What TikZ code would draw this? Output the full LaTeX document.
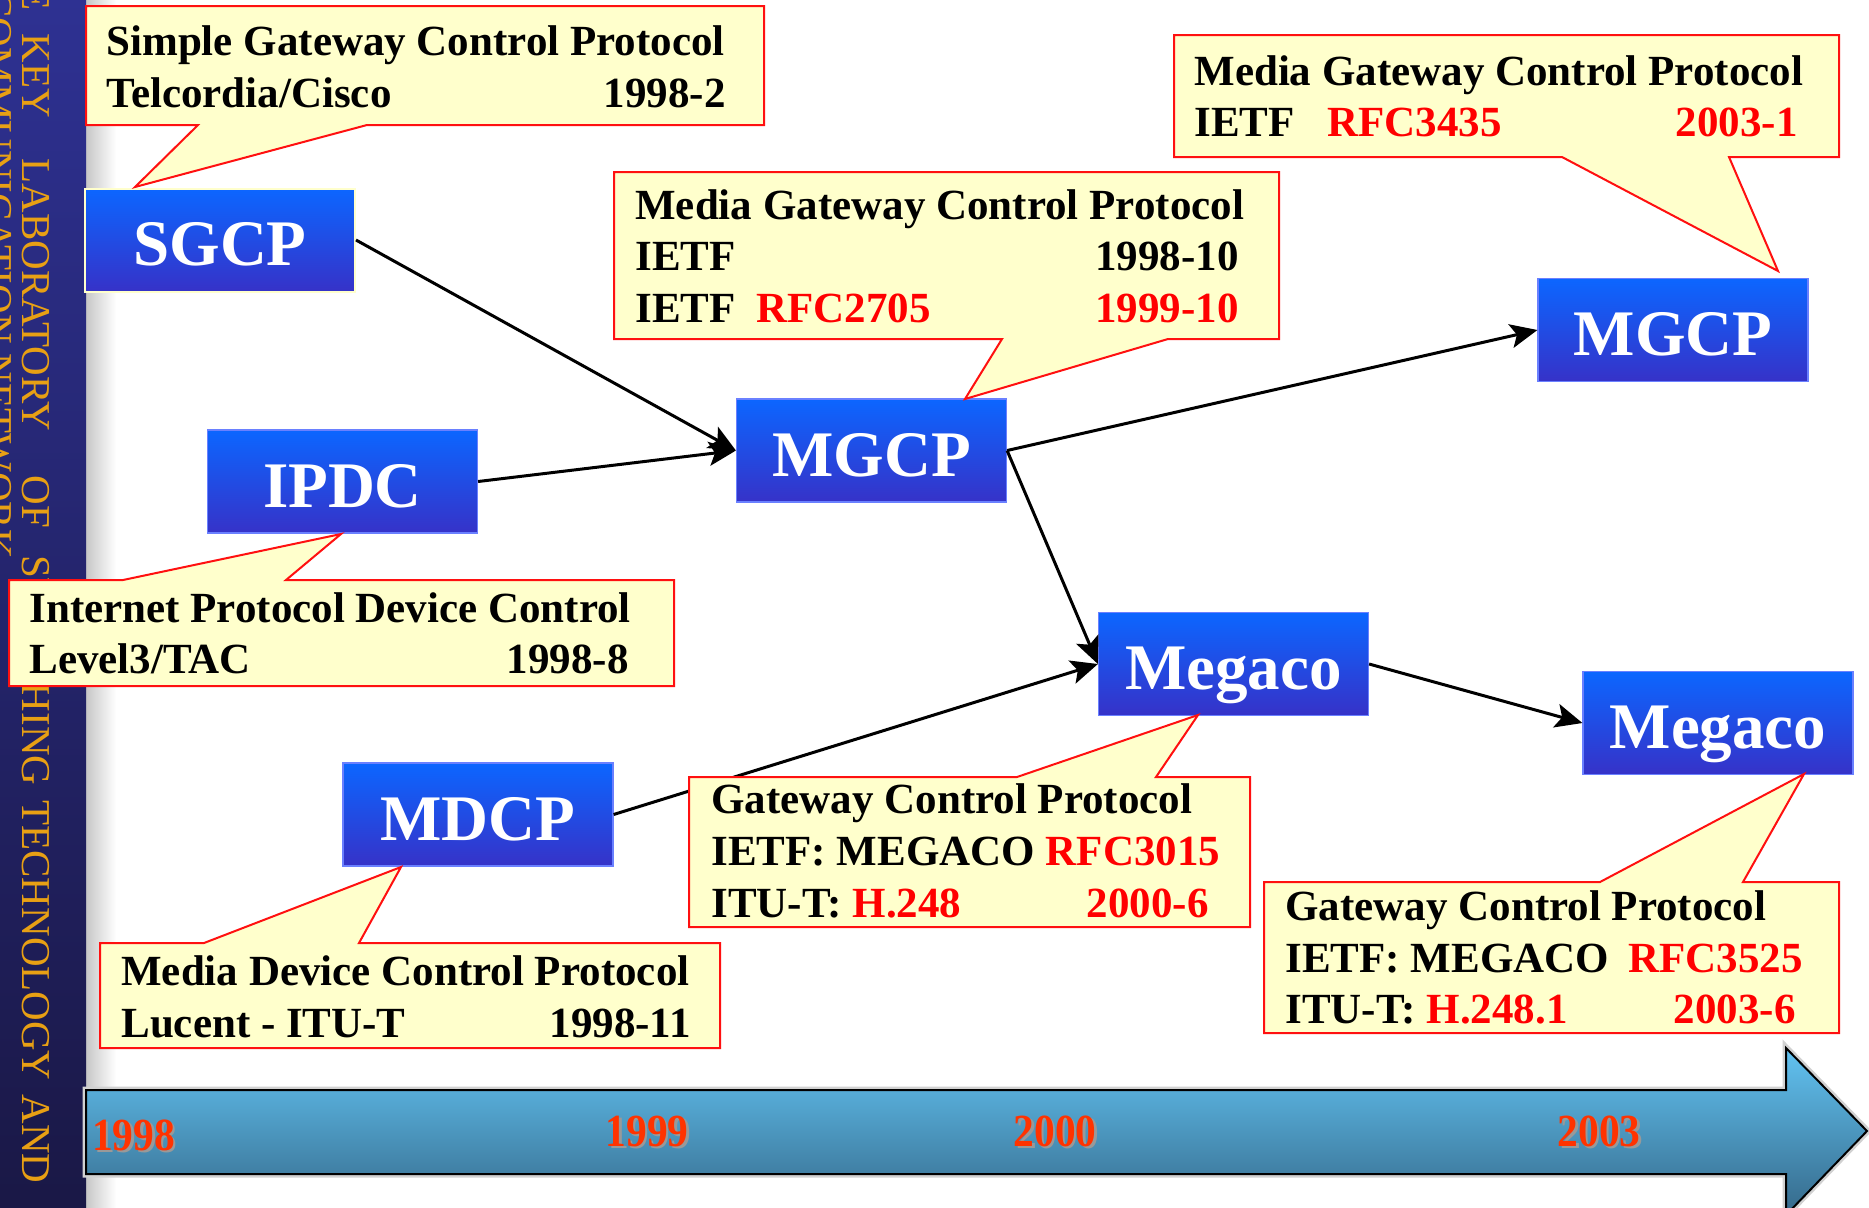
\documentclass[tikz,border=0pt]{standalone}
\usepackage{fontspec}
\setmainfont{Liberation Serif}
\newfontfamily\yearfont{Liberation Serif}[FakeStretch=0.9]
\usetikzlibrary{arrows.meta}

\definecolor{boxtop}{HTML}{0C66FF}
\definecolor{boxbot}{HTML}{3632C8}
\definecolor{boxedge}{HTML}{6A80FF}
\definecolor{notefill}{HTML}{FFFFCC}
\definecolor{noteline}{HTML}{FF1010}
\definecolor{rfcred}{HTML}{FF0000}
\definecolor{yearred}{HTML}{FF3300}
\definecolor{sidetop}{HTML}{2E3192}
\definecolor{sidebot}{HTML}{1A1846}
\definecolor{sidegold}{HTML}{E8A014}
\definecolor{bandtop}{HTML}{62C3F2}
\definecolor{bandbot}{HTML}{35698A}

\begin{document}
\begin{tikzpicture}[x=0.5pt,y=-0.5pt,
  proto/.style={rectangle, minimum width=135pt, minimum height=51.5pt, inner sep=0pt,
    top color=boxtop, bottom color=boxbot, draw=boxedge, line width=0.6pt,
    text=white, font=\fontsize{32.5}{32.5}\selectfont\bfseries,
    text height=25.5pt, text depth=0pt},
  note/.style={fill=notefill, draw=noteline, line width=1pt, line join=miter},
  notetext/.style={font=\fontsize{21.5}{21.5}\selectfont\bfseries, inner sep=0pt, text=black},
  hot/.style={text=rfcred},
  link/.style={-{Stealth[length=13.5pt,width=12pt,inset=3pt]}, line width=1.5pt, black},
  sidetext/.style={font=\fontsize{20.5}{20.5}\selectfont, text=sidegold, inner sep=0pt,
    rotate=-90, anchor=base west},
  yearmark/.style={font=\fontsize{23}{23}\selectfont\yearfont\bfseries, inner sep=0pt, anchor=base}
]
\useasboundingbox (0,0) rectangle (1869,1207);
\fill[white] (0,0) rectangle (1869,1207);

% soft edge next to the side band
\shade[left color=black!22, right color=white] (86,0) rectangle (116,1207);

% side band with the laboratory name, set word by word down the band
\shade[top color=sidetop, bottom color=sidebot] (0,0) rectangle (86,1207);
\begin{scope}
  \clip (0,0) rectangle (86,1207);
  \foreach \word/\pos [count=\k] in {STATE/-110, KEY/33, LABORATORY/158, OF/475,
      SWITCHING/555, TECHNOLOGY/800, AND/1094}{
    \node[sidetext] (labw\k) at (23,\pos) {\word};
  }
  \node[sidetext] (labline2) at (-15,-110) {TELECOMMUNICATION NETWORK};
\end{scope}

% time axis
\path[top color=bandtop, bottom color=bandbot, draw=black, line width=1pt, line join=miter,
      preaction={draw=black!18, line width=3.5pt}]
  (86,1090) -- (1786,1090) -- (1786,1048) -- (1867,1131) -- (1786,1215)
  -- (1786,1174) -- (86,1174) -- cycle;
\foreach \yr/\xx/\yy in {1998/133.5/1150, 1999/647/1146, 2000/1055/1146, 2003/1599/1146}{
  \node[yearmark, text=black!40] (yr\yr s) at (\xx+2.5,\yy+2.5) {\yr};
  \node[yearmark, text=yearred] (yr\yr) at (\xx,\yy) {\yr};
}

% protocol boxes
\node[proto, draw=notefill, line width=1pt] (sgcp) at (220,240) {SGCP};
\node[proto] (ipdc)    at (342.5,481.5) {IPDC};
\node[proto] (mgcpa)   at (871.5,450.5) {MGCP};
\node[proto] (mgcpb)   at (1673,330)    {MGCP};
\node[proto] (megacoa) at (1233.5,664)  {Megaco};
\node[proto] (megacob) at (1718,723)    {Megaco};
\node[proto] (mdcp)    at (478,814.5)   {MDCP};

% evolution links
\draw[link] (sgcp.east) -- (mgcpa.west);
\draw[link] (ipdc.east) -- (mgcpa.west);
\draw[link] (mgcpa.east) -- (mgcpb.west);
\draw[link] (mgcpa.east) -- (megacoa.west);
\draw[link] (mdcp.east) -- (megacoa.west);
\draw[link] (megacoa.east) -- (megacob.west);

% callouts
\path[note] (86,6) -- (764,6) -- (764,125) -- (367,125) -- (135,187) -- (198,125) -- (86,125) -- cycle;
\node[notetext, anchor=base west] (sgcp1) at (106,55) {Simple Gateway Control Protocol};
\node[notetext, anchor=base west] (sgcp2) at (106,107) {Telcordia/Cisco};
\node[notetext, anchor=base east] (sgcp3) at (726,107) {1998-2};

\path[note] (9,580) -- (123,580) -- (341,534) -- (286,580) -- (674,580) -- (674,686) -- (9,686) -- cycle;
\node[notetext, anchor=base west] (ipdc1) at (29,622) {Internet Protocol Device Control};
\node[notetext, anchor=base west] (ipdc2) at (29,673) {Level3/TAC};
\node[notetext, anchor=base east] (ipdc3) at (629,673) {1998-8};

\path[note] (614,172) -- (1279,172) -- (1279,339) -- (1168,339) -- (965,399) -- (1002,339) -- (614,339) -- cycle;
\node[notetext, anchor=base west] (mgcpa1) at (635,219) {Media Gateway Control Protocol};
\node[notetext, anchor=base west] (mgcpa2) at (635,270) {IETF};
\node[notetext, anchor=base east] (mgcpa3) at (1239,270) {1998-10};
\node[notetext, anchor=base west] (mgcpa4) at (635,322) {IETF};
\node[notetext, hot, anchor=base west] (mgcpa5) at (756,322) {RFC2705};
\node[notetext, hot, anchor=base east] (mgcpa6) at (1239,322) {1999-10};

\path[note] (1174,35) -- (1839,35) -- (1839,157) -- (1729,157) -- (1778,271) -- (1562,157) -- (1174,157) -- cycle;
\node[notetext, anchor=base west] (mgcpb1) at (1194,85) {Media Gateway Control Protocol};
\node[notetext, anchor=base west] (mgcpb2) at (1194,136) {IETF};
\node[notetext, hot, anchor=base west] (mgcpb3) at (1327,136) {RFC3435};
\node[notetext, hot, anchor=base east] (mgcpb4) at (1798,136) {2003-1};

\path[note] (689,777) -- (1017,777) -- (1198,715) -- (1156,777) -- (1250,777) -- (1250,927) -- (689,927) -- cycle;
\node[notetext, anchor=base west] (megacoa1) at (711,813) {Gateway Control Protocol};
\node[notetext, anchor=base west] (megacoa2) at (711,865) {IETF: MEGACO \textcolor{rfcred}{RFC3015}};
\node[notetext, anchor=base west] (megacoa3) at (711,917) {ITU-T: \textcolor{rfcred}{H.248}};
\node[notetext, hot, anchor=base east] (megacoa4) at (1209,917) {2000-6};

\path[note] (1264,882) -- (1600,882) -- (1804,774) -- (1743,882) -- (1839,882) -- (1839,1033) -- (1264,1033) -- cycle;
\node[notetext, anchor=base west] (megacob1) at (1285,920) {Gateway Control Protocol};
\node[notetext, anchor=base west] (megacob2) at (1285,972) {IETF: MEGACO};
\node[notetext, hot, anchor=base west] (megacob3) at (1628,972) {RFC3525};
\node[notetext, anchor=base west] (megacob4) at (1285,1023) {ITU-T: \textcolor{rfcred}{H.248.1}};
\node[notetext, hot, anchor=base east] (megacob5) at (1796,1023) {2003-6};

\path[note] (100,943) -- (204,943) -- (401,867) -- (359,943) -- (720,943) -- (720,1048) -- (100,1048) -- cycle;
\node[notetext, anchor=base west] (mdcp1) at (121,985) {Media Device Control Protocol};
\node[notetext, anchor=base west] (mdcp2) at (121,1037) {Lucent - ITU-T};
\node[notetext, anchor=base east] (mdcp3) at (691,1037) {1998-11};
\end{tikzpicture}
\end{document}
